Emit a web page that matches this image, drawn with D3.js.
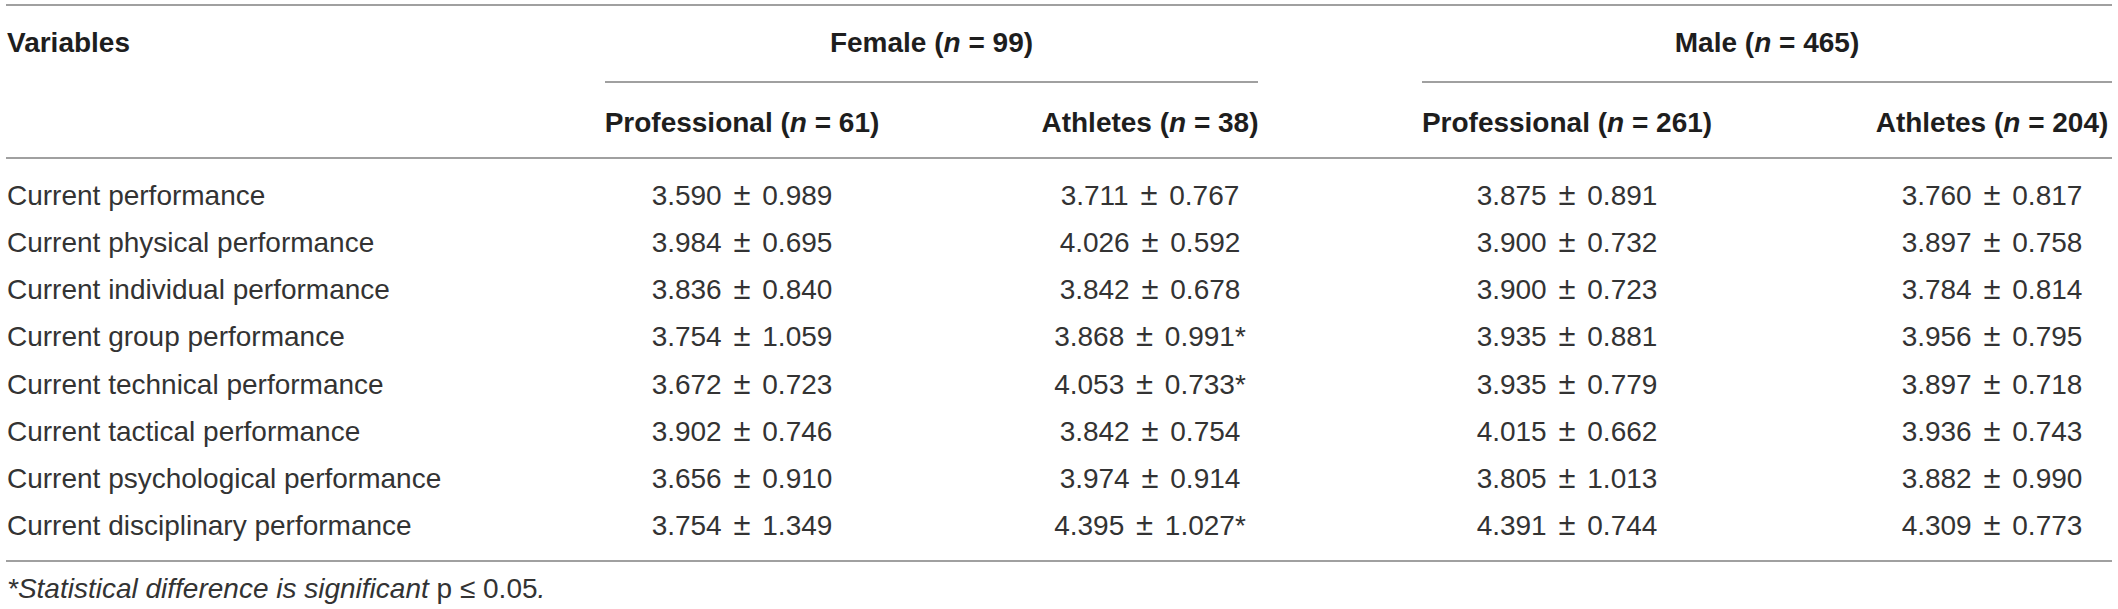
<!DOCTYPE html>
<html>
<head>
<meta charset="utf-8">
<script src="https://cdn.jsdelivr.net/npm/d3@7"></script>
<style>
  body { margin: 0; background: #fff; }
  svg { display: block; font-family: "Liberation Sans", Arial, Helvetica, sans-serif; }
</style>
</head>
<body>
<svg id="table" width="2118" height="609"></svg>
<script>
// table content
const variables = [
  "Current performance",
  "Current physical performance",
  "Current individual performance",
  "Current group performance",
  "Current technical performance",
  "Current tactical performance",
  "Current psychological performance",
  "Current disciplinary performance"
]

const groups = ["Female", "Male"]
const groupN = [99, 465]

const subgroups = ["Professional", "Athletes", "Professional", "Athletes"]
const subgroupN = [61, 38, 261, 204]

const femaleProMean = [3.590, 3.984, 3.836, 3.754, 3.672, 3.902, 3.656, 3.754]
const femaleProSD   = [0.989, 0.695, 0.840, 1.059, 0.723, 0.746, 0.910, 1.349]
const femaleAthMean = [3.711, 4.026, 3.842, 3.868, 4.053, 3.842, 3.974, 4.395]
const femaleAthSD   = [0.767, 0.592, 0.678, 0.991, 0.733, 0.754, 0.914, 1.027]
const femaleAthSig  = [false, false, false, true, true, false, false, true]
const maleProMean   = [3.875, 3.900, 3.900, 3.935, 3.935, 4.015, 3.805, 4.391]
const maleProSD     = [0.891, 0.732, 0.723, 0.881, 0.779, 0.662, 1.013, 0.744]
const maleAthMean   = [3.760, 3.897, 3.784, 3.956, 3.897, 3.936, 3.882, 4.309]
const maleAthSD     = [0.817, 0.758, 0.814, 0.795, 0.718, 0.743, 0.990, 0.773]

const columns = [
  {mean: femaleProMean, sd: femaleProSD, sig: null},
  {mean: femaleAthMean, sd: femaleAthSD, sig: femaleAthSig},
  {mean: maleProMean, sd: maleProSD, sig: null},
  {mean: maleAthMean, sd: maleAthSD, sig: null}
]

// layout
const left = 6, right = 2112
const fontSize = 28
const textColor = "#333333"
const headColor = "#1e1e1e"
const ruleColor = "#808080"

const svg = d3.select("#table")
const fmt = d3.format(".3f")

const y = d3.scalePoint().domain(variables).range([195, 525])
const colX = d3.scaleOrdinal().domain(d3.range(4)).range([742, 1150, 1567, 1992])
const groupSpan = d3.scaleOrdinal().domain(groups).range([[605, 1258], [1422, 2112]])

const baseline = 10   // offset from visual center to baseline

function hline(y0, x0, x1){
  svg.append("line")
    .attr("x1", x0).attr("x2", x1)
    .attr("y1", y0).attr("y2", y0)
    .attr("stroke", ruleColor)
    .attr("stroke-width", 1.6)
}

// rules
hline(5, left, right)
hline(158, left, right)
hline(561, left, right)
groups.forEach(g => hline(82, groupSpan(g)[0], groupSpan(g)[1]))

// header text with italic n
function headerLabel(sel, label, n){
  sel.append("tspan").text(label + " (")
  sel.append("tspan").attr("font-style", "italic").text("n")
  sel.append("tspan").text(" = " + n + ")")
}

svg.append("text")
  .attr("x", 7).attr("y", 42 + baseline)
  .attr("font-size", fontSize).attr("font-weight", "bold")
  .attr("fill", headColor)
  .text("Variables")

svg.selectAll("text.group")
  .data(groups)
  .join("text")
  .attr("class", "group")
  .attr("x", d => (groupSpan(d)[0] + groupSpan(d)[1]) / 2)
  .attr("y", 42 + baseline)
  .attr("text-anchor", "middle")
  .attr("font-size", fontSize).attr("font-weight", "bold")
  .attr("fill", headColor)
  .each(function(d, i){ headerLabel(d3.select(this), d, groupN[i]) })

svg.selectAll("text.sub")
  .data(subgroups)
  .join("text")
  .attr("class", "sub")
  .attr("x", (d, i) => colX(i))
  .attr("y", 122 + baseline)
  .attr("text-anchor", "middle")
  .attr("font-size", fontSize).attr("font-weight", "bold")
  .attr("fill", headColor)
  .each(function(d, i){ headerLabel(d3.select(this), d, subgroupN[i]) })

// body rows
svg.selectAll("text.var")
  .data(variables)
  .join("text")
  .attr("class", "var")
  .attr("x", 7)
  .attr("y", d => y(d) + baseline)
  .attr("font-size", fontSize)
  .attr("fill", textColor)
  .text(d => d)

const cells = []
columns.forEach((c, ci) => {
  variables.forEach((v, ri) => {
    cells.push({
      col: ci, row: v,
      mean: fmt(c.mean[ri]),
      sd: fmt(c.sd[ri]) + (c.sig && c.sig[ri] ? "*" : "")
    })
  })
})

let cellText = svg.selectAll("text.cell")
  .data(cells)
  .join("text")
  .attr("class", "cell")
  .attr("x", d => colX(d.col))
  .attr("y", d => y(d.row) + baseline)
  .attr("text-anchor", "middle")
  .attr("font-size", fontSize)
  .attr("fill", textColor)
  .attr("word-spacing", 4)

cellText.append("tspan").text(d => d.mean + " ")
cellText.append("tspan").attr("font-size", 31).text("\u00b1")
cellText.append("tspan").text(d => " " + d.sd)

// footnote
const note = svg.append("text")
  .attr("x", 7).attr("y", 588 + baseline)
  .attr("font-size", fontSize)
  .attr("fill", textColor)
note.append("tspan").attr("font-style", "italic").text("*Statistical difference is significant ")
note.append("tspan").text("p \u2264 0.05")
note.append("tspan").attr("font-style", "italic").text(".")
</script>
</body>
</html>
